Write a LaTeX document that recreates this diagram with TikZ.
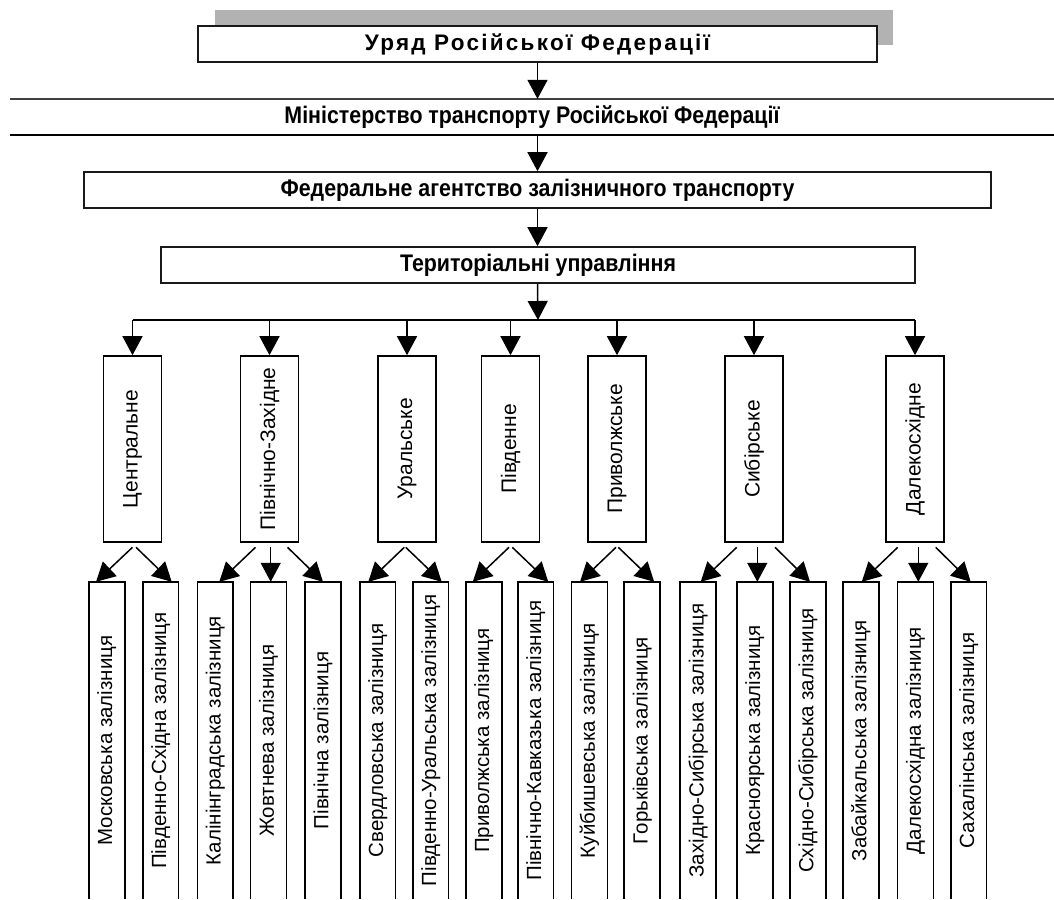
\documentclass[tikz,border=0pt]{standalone}
\usepackage{fontspec}
\setmainfont{Liberation Sans}
\newfontfamily\hdrfont[FakeStretch=0.89]{Liberation Sans}
\newfontfamily\spacedfont[LetterSpace=10]{Liberation Sans}
\usetikzlibrary{arrows.meta}
\newcommand\dArrow[4]{\draw[arr] ([shift={(#2,4.5)}]#1.south) -- ([xshift=#4pt]#3.north);}
\tikzset{
  arr/.style={line width=1.5pt,-{Triangle[length=19pt,width=20pt]}},
  bigbox/.style={draw=black!90,line width=1.6pt,fill=white,minimum height=36pt,inner sep=0pt,
     font=\hdrfont\bfseries\fontsize{24}{27}\selectfont},
  regbox/.style={draw,line width=1.6pt,minimum width=58pt,minimum height=186pt,inner sep=0pt,
     font=\fontsize{21}{24}\selectfont},
  railbox/.style={minimum width=35.5pt,minimum height=317pt,inner sep=0pt,
     font=\fontsize{20.5}{24}\selectfont},
  railside/.style={line width=1.6pt},
}
\begin{document}
\begin{tikzpicture}[x=1pt,y=-1pt]
\useasboundingbox (0,0) rectangle (1054,899);
% shadow of the top box
\fill[black!30] (215,10) rectangle (893,45);
\node[bigbox,minimum width=679pt,font=\spacedfont\bfseries\fontsize{22.5}{26}\selectfont] (gov) at (537.5,44) {Уряд Російської Федерації};
% ministry band
\node[minimum width=1044pt,minimum height=36pt,inner sep=0pt,font=\hdrfont\bfseries\fontsize{24}{27}\selectfont] (min) at (532,117) {Міністерство транспорту Російської Федерації};
\draw[line width=1.5pt,black!75] (min.north west) -- (min.north east);
\draw[line width=2.2pt] (min.south west) -- (min.south east);
\node[bigbox,minimum width=907pt] (fed) at (537.5,190) {Федеральне агентство залізничного транспорту};
\node[bigbox,minimum width=754pt] (ter) at (538,265) {Територіальні управління};
\draw[arr] (gov.south) -- (gov.south |- min.north);
\draw[arr] (gov.south |- min.south) -- (gov.south |- fed.north);
\draw[arr] (gov.south |- fed.south) -- (gov.south |- ter.north);
\coordinate (bus) at (538,320);
\draw[arr] (gov.south |- ter.south) -- (bus);
% regional boxes
\node[regbox] (r1) at (132.5,449) {\rotatebox{90}{Центральне}};
\node[regbox] (r2) at (269.5,449) {\rotatebox{90}{Північно-Західне}};
\node[regbox] (r3) at (407,449) {\rotatebox{90}{Уральське}};
\node[regbox] (r4) at (510.5,449) {\rotatebox{90}{Південне}};
\node[regbox] (r5) at (617,449) {\rotatebox{90}{Приволжське}};
\node[regbox] (r6) at (754,449) {\rotatebox{90}{Сибірське}};
\node[regbox] (r7) at (915,449) {\rotatebox{90}{Далекосхідне}};
\draw[line width=1.5pt] (r1.north |- bus) -- (r7.north |- bus);
\foreach \r in {r1,r2,r3,r4,r5,r6,r7}{\draw[arr] (\r.north |- bus) -- (\r.north);}
% railway boxes
\foreach \n/\x/\t in {a1/106.8/Московська залізниця, a2/160.7/Південно-Східна залізниця,
  b1/215.3/Калінінградська залізниця, b2/268.5/Жовтнева залізниця, b3/323/Північна залізниця,
  c1/377.7/Свердловська залізниця, c2/430.7/Південно-Уральська залізниця,
  d1/483.8/Приволжська залізниця, d2/535.7/Північно-Кавказька залізниця,
  e1/589.5/Куйбишевська залізниця, e2/642.2/Горьківська залізниця,
  f1/698.2/Західно-Сибірська залізниця, f2/754.8/Красноярська залізниця, f3/808/Східно-Сибірська залізниця,
  g1/860.8/Забайкальська залізниця, g2/915.5/Далекосхідна залізниця, g3/968.7/Сахалінська залізниця}{
  \node[railbox] (\n) at (\x,740.5) {\rotatebox{90}{\t}};
  \draw[railside] (\n.south west) -- (\n.north west) -- (\n.north east) -- (\n.south east);
}
% arrows from regions to railways
\dArrow{r1}{0}{a1}{-10.8}
\dArrow{r1}{3.5}{a2}{11}
\dArrow{r2}{-14}{b1}{4}
\dArrow{r2}{1.2}{b2}{2.2}
\dArrow{r2}{18}{b3}{0}
\dArrow{r3}{-2.7}{c1}{-9.4}
\dArrow{r3}{-1.3}{c2}{11}
\dArrow{r4}{-1.5}{d1}{-11}
\dArrow{r4}{1.8}{d2}{12.6}
\dArrow{r5}{-1}{e1}{-9.5}
\dArrow{r5}{1.3}{e2}{12}
\dArrow{r6}{-17.3}{f1}{2.5}
\dArrow{r6}{3.3}{f2}{2.5}
\dArrow{r6}{21}{f3}{2}
\dArrow{r7}{-17.3}{g1}{1}
\dArrow{r7}{3.3}{g2}{2.8}
\dArrow{r7}{20.7}{g3}{2}
\end{tikzpicture}
\end{document}
